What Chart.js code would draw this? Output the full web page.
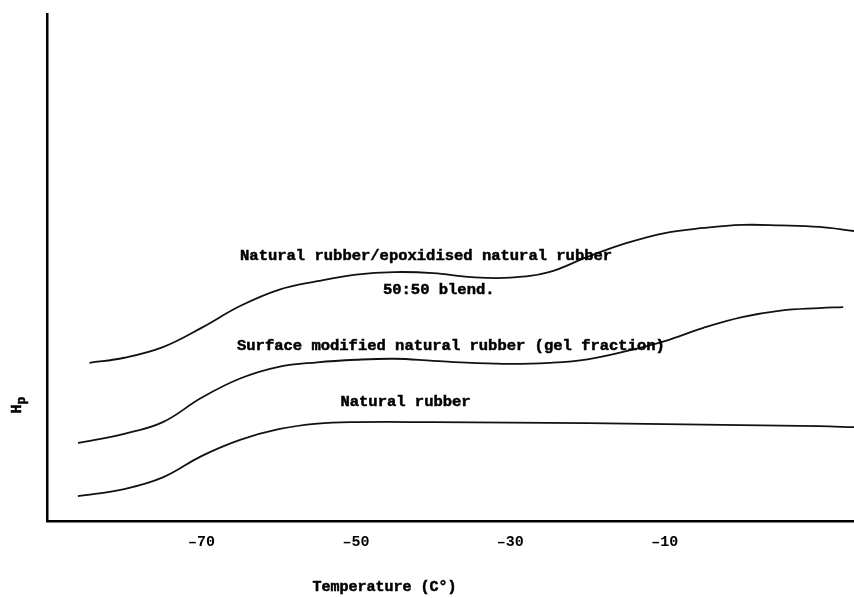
<!DOCTYPE html>
<html>
<head>
<meta charset="utf-8">
<script src="https://cdn.jsdelivr.net/npm/chart.js@4/dist/chart.umd.min.js"></script>
<style>
  html, body { margin: 0; padding: 0; background: #fff; }
  #wrap { width: 854px; height: 598px; }
</style>
</head>
<body>
<div id="wrap"><canvas id="c" width="854" height="598"></canvas></div>
<script>
// ---- data ----
const tickTemps = [-70, -50, -30, -10];

const blendTemps  = [-84.5,-80,-75,-70,-65,-60,-55,-50,-45,-40,-35,-30,-25,-20,-15,-10,-5,0,5,10,14.5];
const blendValues = [31.2,32.2,34.3,38.1,42.4,45.6,47.3,48.6,49.1,48.9,48.1,48.0,49.1,52.1,54.8,56.8,57.8,58.4,58.3,58.0,57.2];

const surfTemps  = [-86,-80,-75,-70,-65,-60,-55,-50,-45,-40,-35,-30,-25,-20,-15,-10,-5,0,5,10,13.1];
const surfValues = [15.4,17.2,19.5,24.3,28.1,30.4,31.3,31.8,32.0,31.6,31.2,31.0,31.2,31.9,33.5,35.5,38.1,40.2,41.5,42.0,42.2];

const nrTemps  = [-86,-80,-75,-70,-65,-60,-55,-50,-40,-30,-20,-10,0,10,14.5];
const nrValues = [4.9,6.3,8.6,12.8,16.0,18.1,19.2,19.5,19.5,19.4,19.3,19.1,18.9,18.7,18.5];

const seriesNames = [
  "Natural rubber/epoxidised natural rubber 50:50 blend.",
  "Surface modified natural rubber (gel fraction)",
  "Natural rubber"
];

// curve labels: text lines and anchor in data coordinates
const curveLabels = [
  { text: "Natural rubber/epoxidised natural rubber", t: -65.0, v: 52.3 },
  { text: "50:50 blend.",                              t: -46.5, v: 45.6 },
  { text: "Surface modified natural rubber (gel fraction)", t: -65.4, v: 34.5 },
  { text: "Natural rubber",                            t: -52.0, v: 23.5 }
];
const xTitle = "Temperature (C\u00B0)";

function pts(ts, vs) { return ts.map((t, i) => ({ x: t, y: vs[i] })); }

function boldText(ctx, s, x, y) {
  ctx.fillText(s, x, y);
  ctx.strokeText(s, x, y);
}

const labelPlugin = {
  id: 'labels',
  afterDraw(chart) {
    const ctx = chart.ctx;
    const xs = chart.scales.x, ys = chart.scales.y;
    ctx.save();
    ctx.fillStyle = '#000';
    ctx.strokeStyle = '#000';
    ctx.lineWidth = 0.5;
    ctx.font = 'bold 15.5px "Liberation Mono", "Courier New", monospace';
    ctx.textAlign = 'left';
    ctx.textBaseline = 'middle';
    curveLabels.forEach(l => {
      boldText(ctx, l.text, xs.getPixelForValue(l.t), ys.getPixelForValue(l.v));
    });
    // x-axis title
    ctx.font = 'bold 15px "Liberation Mono", "Courier New", monospace';
    ctx.textAlign = 'center';
    boldText(ctx, xTitle, xs.getPixelForValue(-46.3), chart.chartArea.bottom + 66);
    // y-axis title  H with subscript p, rotated
    ctx.translate(19, ys.getPixelForValue(23));
    ctx.rotate(-Math.PI / 2);
    ctx.textAlign = 'left';
    ctx.font = 'bold 15px "Liberation Mono", "Courier New", monospace';
    boldText(ctx, 'H', -9, -2);
    ctx.font = 'bold 13px "Liberation Mono", "Courier New", monospace';
    boldText(ctx, 'p', 0, 3);
    ctx.restore();
  }
};

const lineStyle = { borderColor: '#111', borderWidth: 1.8, pointRadius: 0, fill: false, tension: 0.4 };

new Chart(document.getElementById('c'), {
  type: 'line',
  data: {
    datasets: [
      Object.assign({ label: seriesNames[0], data: pts(blendTemps, blendValues) }, lineStyle),
      Object.assign({ label: seriesNames[1], data: pts(surfTemps, surfValues) }, lineStyle),
      Object.assign({ label: seriesNames[2], data: pts(nrTemps, nrValues) }, lineStyle)
    ]
  },
  options: {
    responsive: false,
    animation: false,
    devicePixelRatio: 1,
    layout: { padding: { top: 14, right: 0, left: 0, bottom: 0 } },
    plugins: { legend: { display: false }, tooltip: { enabled: false } },
    scales: {
      x: {
        type: 'linear',
        min: -90, max: 14.5,
        afterBuildTicks(scale) { scale.ticks = tickTemps.map(v => ({ value: v })); },
        afterFit(scale) { scale.height = 77; },
        grid: { display: false, drawTicks: false },
        border: { display: true, color: '#000', width: 2.5 },
        ticks: {
          color: '#000',
          padding: 12,
          font: { family: '"Liberation Mono", monospace', size: 15, weight: 'bold' },
          callback: v => String(v).replace('-', '\u2013')
        }
      },
      y: {
        type: 'linear',
        min: 0, max: 100,
        afterFit(scale) { scale.width = 47; },
        grid: { display: false, drawTicks: false },
        border: { display: true, color: '#000', width: 2.5 },
        ticks: { display: false }
      }
    }
  },
  plugins: [labelPlugin]
});
</script>
</body>
</html>
